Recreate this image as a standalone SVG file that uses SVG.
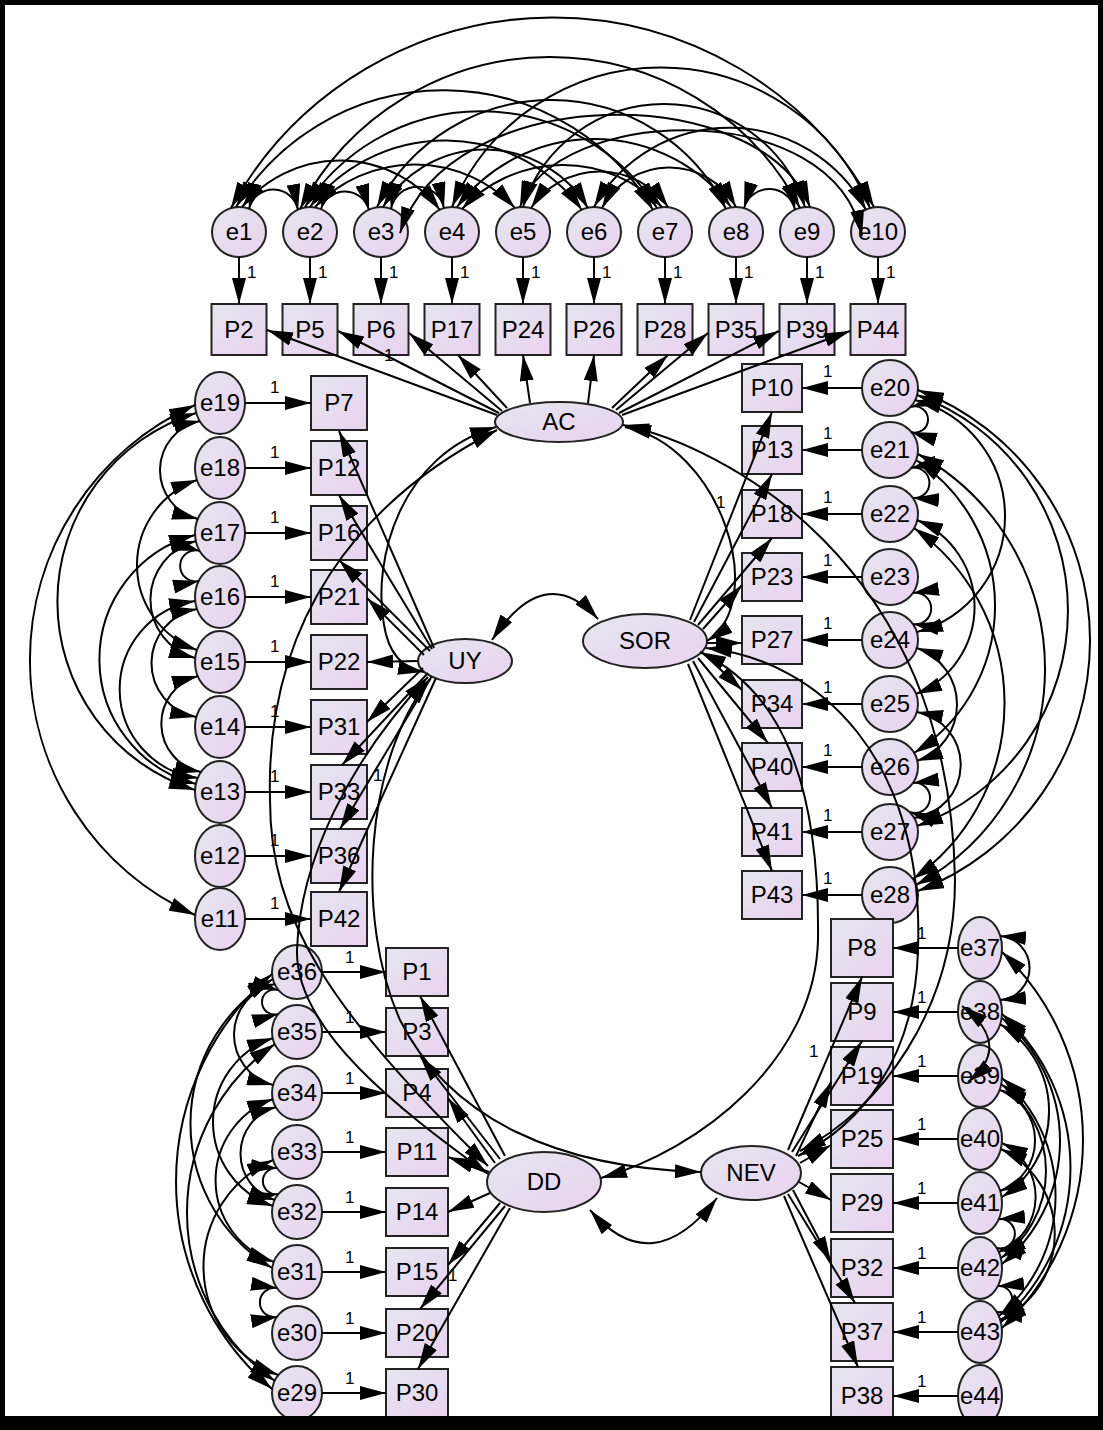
<svg xmlns="http://www.w3.org/2000/svg" width="1103" height="1430" viewBox="0 0 1103 1430">
<defs>
<linearGradient id="g" x1="0" y1="0" x2="1" y2="1"><stop offset="0" stop-color="#e4e6ef"/><stop offset="1" stop-color="#ead2ef"/></linearGradient>
<marker id="ah" markerUnits="userSpaceOnUse" markerWidth="26" markerHeight="14" refX="26" refY="7" orient="auto-start-reverse" viewBox="0 0 26 14"><path d="M0,0 L26,7 L0,14 z" fill="#000"/></marker>
<style>
.n{fill:url(#g);stroke:#222;stroke-width:2}
.t{font-family:"Liberation Sans",Arial,sans-serif;font-size:24px;text-anchor:middle;fill:#000}
.l{font-size:24px}
.o{font-family:"Liberation Sans",Arial,sans-serif;font-size:17px;fill:#000}
.c{fill:none;stroke:#000;stroke-width:2}
.m{marker-end:url(#ah)}
.d{marker-start:url(#ah);marker-end:url(#ah)}
</style>
</defs>
<rect x="0" y="0" width="1103" height="1430" fill="#fff"/>
<g id="nodes">
<g id="e1"><ellipse class="n" cx="239" cy="232" rx="27" ry="25"/><text class="t" x="239" y="240">e1</text></g>
<g id="e2"><ellipse class="n" cx="310" cy="232" rx="27" ry="25"/><text class="t" x="310" y="240">e2</text></g>
<g id="e3"><ellipse class="n" cx="381" cy="232" rx="27" ry="25"/><text class="t" x="381" y="240">e3</text></g>
<g id="e4"><ellipse class="n" cx="452" cy="232" rx="27" ry="25"/><text class="t" x="452" y="240">e4</text></g>
<g id="e5"><ellipse class="n" cx="523" cy="232" rx="27" ry="25"/><text class="t" x="523" y="240">e5</text></g>
<g id="e6"><ellipse class="n" cx="594" cy="232" rx="27" ry="25"/><text class="t" x="594" y="240">e6</text></g>
<g id="e7"><ellipse class="n" cx="665" cy="232" rx="27" ry="25"/><text class="t" x="665" y="240">e7</text></g>
<g id="e8"><ellipse class="n" cx="736" cy="232" rx="27" ry="25"/><text class="t" x="736" y="240">e8</text></g>
<g id="e9"><ellipse class="n" cx="807" cy="232" rx="27" ry="25"/><text class="t" x="807" y="240">e9</text></g>
<g id="e10"><ellipse class="n" cx="878" cy="232" rx="27" ry="25"/><text class="t" x="878" y="240">e10</text></g>
<g id="P2"><rect class="n" x="211.5" y="304" width="55" height="51"/><text class="t" x="239" y="338">P2</text></g>
<g id="P5"><rect class="n" x="282.5" y="304" width="55" height="51"/><text class="t" x="310" y="338">P5</text></g>
<g id="P6"><rect class="n" x="353.5" y="304" width="55" height="51"/><text class="t" x="381" y="338">P6</text></g>
<g id="P17"><rect class="n" x="424.5" y="304" width="55" height="51"/><text class="t" x="452" y="338">P17</text></g>
<g id="P24"><rect class="n" x="495.5" y="304" width="55" height="51"/><text class="t" x="523" y="338">P24</text></g>
<g id="P26"><rect class="n" x="566.5" y="304" width="55" height="51"/><text class="t" x="594" y="338">P26</text></g>
<g id="P28"><rect class="n" x="637.5" y="304" width="55" height="51"/><text class="t" x="665" y="338">P28</text></g>
<g id="P35"><rect class="n" x="708.5" y="304" width="55" height="51"/><text class="t" x="736" y="338">P35</text></g>
<g id="P39"><rect class="n" x="779.5" y="304" width="55" height="51"/><text class="t" x="807" y="338">P39</text></g>
<g id="P44"><rect class="n" x="850.5" y="304" width="55" height="51"/><text class="t" x="878" y="338">P44</text></g>

<g id="e19"><ellipse class="n" cx="220" cy="403" rx="25" ry="31"/><text class="t" x="220" y="411">e19</text></g>
<g id="e18"><ellipse class="n" cx="220" cy="468" rx="25" ry="31"/><text class="t" x="220" y="476">e18</text></g>
<g id="e17"><ellipse class="n" cx="220" cy="533" rx="25" ry="31"/><text class="t" x="220" y="541">e17</text></g>
<g id="e16"><ellipse class="n" cx="220" cy="597" rx="25" ry="31"/><text class="t" x="220" y="605">e16</text></g>
<g id="e15"><ellipse class="n" cx="220" cy="662" rx="25" ry="31"/><text class="t" x="220" y="670">e15</text></g>
<g id="e14"><ellipse class="n" cx="220" cy="727" rx="25" ry="31"/><text class="t" x="220" y="735">e14</text></g>
<g id="e13"><ellipse class="n" cx="220" cy="792" rx="25" ry="31"/><text class="t" x="220" y="800">e13</text></g>
<g id="e12"><ellipse class="n" cx="220" cy="856" rx="25" ry="31"/><text class="t" x="220" y="864">e12</text></g>
<g id="e11"><ellipse class="n" cx="220" cy="919" rx="25" ry="31"/><text class="t" x="220" y="927">e11</text></g>
<g id="P7"><rect class="n" x="311" y="376" width="56" height="54"/><text class="t" x="339" y="411">P7</text></g>
<g id="P12"><rect class="n" x="311" y="441" width="56" height="54"/><text class="t" x="339" y="476">P12</text></g>
<g id="P16"><rect class="n" x="311" y="506" width="56" height="54"/><text class="t" x="339" y="541">P16</text></g>
<g id="P21"><rect class="n" x="311" y="570" width="56" height="54"/><text class="t" x="339" y="605">P21</text></g>
<g id="P22"><rect class="n" x="311" y="635" width="56" height="54"/><text class="t" x="339" y="670">P22</text></g>
<g id="P31"><rect class="n" x="311" y="700" width="56" height="54"/><text class="t" x="339" y="735">P31</text></g>
<g id="P33"><rect class="n" x="311" y="765" width="56" height="54"/><text class="t" x="339" y="800">P33</text></g>
<g id="P36"><rect class="n" x="311" y="829" width="56" height="54"/><text class="t" x="339" y="864">P36</text></g>
<g id="P42"><rect class="n" x="311" y="892" width="56" height="54"/><text class="t" x="339" y="927">P42</text></g>

<g id="P10"><rect class="n" x="742" y="364" width="60" height="48"/><text class="t" x="772" y="396">P10</text></g>
<g id="P13"><rect class="n" x="742" y="426" width="60" height="48"/><text class="t" x="772" y="458">P13</text></g>
<g id="P18"><rect class="n" x="742" y="490" width="60" height="48"/><text class="t" x="772" y="522">P18</text></g>
<g id="P23"><rect class="n" x="742" y="553" width="60" height="48"/><text class="t" x="772" y="585">P23</text></g>
<g id="P27"><rect class="n" x="742" y="616" width="60" height="48"/><text class="t" x="772" y="648">P27</text></g>
<g id="P34"><rect class="n" x="742" y="680" width="60" height="48"/><text class="t" x="772" y="712">P34</text></g>
<g id="P40"><rect class="n" x="742" y="743" width="60" height="48"/><text class="t" x="772" y="775">P40</text></g>
<g id="P41"><rect class="n" x="742" y="808" width="60" height="48"/><text class="t" x="772" y="840">P41</text></g>
<g id="P43"><rect class="n" x="742" y="871" width="60" height="48"/><text class="t" x="772" y="903">P43</text></g>
<g id="e20"><circle class="n" cx="890" cy="388" r="28"/><text class="t" x="890" y="396">e20</text></g>
<g id="e21"><circle class="n" cx="890" cy="450" r="28"/><text class="t" x="890" y="458">e21</text></g>
<g id="e22"><circle class="n" cx="890" cy="514" r="28"/><text class="t" x="890" y="522">e22</text></g>
<g id="e23"><circle class="n" cx="890" cy="577" r="28"/><text class="t" x="890" y="585">e23</text></g>
<g id="e24"><circle class="n" cx="890" cy="640" r="28"/><text class="t" x="890" y="648">e24</text></g>
<g id="e25"><circle class="n" cx="890" cy="704" r="28"/><text class="t" x="890" y="712">e25</text></g>
<g id="e26"><circle class="n" cx="890" cy="767" r="28"/><text class="t" x="890" y="775">e26</text></g>
<g id="e27"><circle class="n" cx="890" cy="832" r="28"/><text class="t" x="890" y="840">e27</text></g>
<g id="e28"><circle class="n" cx="890" cy="895" r="28"/><text class="t" x="890" y="903">e28</text></g>

<g id="e36"><ellipse class="n" cx="297" cy="972" rx="25" ry="27"/><text class="t" x="297" y="980">e36</text></g>
<g id="e35"><ellipse class="n" cx="297" cy="1032" rx="25" ry="27"/><text class="t" x="297" y="1040">e35</text></g>
<g id="e34"><ellipse class="n" cx="297" cy="1093" rx="25" ry="27"/><text class="t" x="297" y="1101">e34</text></g>
<g id="e33"><ellipse class="n" cx="297" cy="1152" rx="25" ry="27"/><text class="t" x="297" y="1160">e33</text></g>
<g id="e32"><ellipse class="n" cx="297" cy="1212" rx="25" ry="27"/><text class="t" x="297" y="1220">e32</text></g>
<g id="e31"><ellipse class="n" cx="297" cy="1272" rx="25" ry="27"/><text class="t" x="297" y="1280">e31</text></g>
<g id="e30"><ellipse class="n" cx="297" cy="1333" rx="25" ry="27"/><text class="t" x="297" y="1341">e30</text></g>
<g id="e29"><ellipse class="n" cx="297" cy="1393" rx="25" ry="27"/><text class="t" x="297" y="1401">e29</text></g>
<g id="P1"><rect class="n" x="386" y="948" width="62" height="48"/><text class="t" x="417" y="980">P1</text></g>
<g id="P3"><rect class="n" x="386" y="1008" width="62" height="48"/><text class="t" x="417" y="1040">P3</text></g>
<g id="P4"><rect class="n" x="386" y="1069" width="62" height="48"/><text class="t" x="417" y="1101">P4</text></g>
<g id="P11"><rect class="n" x="386" y="1128" width="62" height="48"/><text class="t" x="417" y="1160">P11</text></g>
<g id="P14"><rect class="n" x="386" y="1188" width="62" height="48"/><text class="t" x="417" y="1220">P14</text></g>
<g id="P15"><rect class="n" x="386" y="1248" width="62" height="48"/><text class="t" x="417" y="1280">P15</text></g>
<g id="P20"><rect class="n" x="386" y="1309" width="62" height="48"/><text class="t" x="417" y="1341">P20</text></g>
<g id="P30"><rect class="n" x="386" y="1369" width="62" height="48"/><text class="t" x="417" y="1401">P30</text></g>

<g id="P8"><rect class="n" x="831" y="919" width="62" height="58"/><text class="t" x="862" y="956">P8</text></g>
<g id="P9"><rect class="n" x="831" y="983" width="62" height="58"/><text class="t" x="862" y="1020">P9</text></g>
<g id="P19"><rect class="n" x="831" y="1047" width="62" height="58"/><text class="t" x="862" y="1084">P19</text></g>
<g id="P25"><rect class="n" x="831" y="1110" width="62" height="58"/><text class="t" x="862" y="1147">P25</text></g>
<g id="P29"><rect class="n" x="831" y="1174" width="62" height="58"/><text class="t" x="862" y="1211">P29</text></g>
<g id="P32"><rect class="n" x="831" y="1239" width="62" height="58"/><text class="t" x="862" y="1276">P32</text></g>
<g id="P37"><rect class="n" x="831" y="1303" width="62" height="58"/><text class="t" x="862" y="1340">P37</text></g>
<g id="P38"><rect class="n" x="831" y="1367" width="62" height="58"/><text class="t" x="862" y="1404">P38</text></g>
<g id="e37"><ellipse class="n" cx="980" cy="948" rx="22" ry="31"/><text class="t" x="980" y="956">e37</text></g>
<g id="e38"><ellipse class="n" cx="980" cy="1012" rx="22" ry="31"/><text class="t" x="980" y="1020">e38</text></g>
<g id="e39"><ellipse class="n" cx="980" cy="1076" rx="22" ry="31"/><text class="t" x="980" y="1084">e39</text></g>
<g id="e40"><ellipse class="n" cx="980" cy="1139" rx="22" ry="31"/><text class="t" x="980" y="1147">e40</text></g>
<g id="e41"><ellipse class="n" cx="980" cy="1203" rx="22" ry="31"/><text class="t" x="980" y="1211">e41</text></g>
<g id="e42"><ellipse class="n" cx="980" cy="1268" rx="22" ry="31"/><text class="t" x="980" y="1276">e42</text></g>
<g id="e43"><ellipse class="n" cx="980" cy="1332" rx="22" ry="31"/><text class="t" x="980" y="1340">e43</text></g>
<g id="e44"><ellipse class="n" cx="980" cy="1396" rx="22" ry="31"/><text class="t" x="980" y="1404">e44</text></g>

<g id="AC"><ellipse class="n" cx="559" cy="422" rx="64" ry="20"/><text class="t l" x="559" y="430">AC</text></g>
<g id="UY"><ellipse class="n" cx="465" cy="661" rx="47" ry="22"/><text class="t l" x="465" y="669">UY</text></g>
<g id="SOR"><ellipse class="n" cx="645" cy="641" rx="62" ry="27"/><text class="t l" x="645" y="649">SOR</text></g>
<g id="DD"><ellipse class="n" cx="544" cy="1182" rx="57" ry="30"/><text class="t l" x="544" y="1190">DD</text></g>
<g id="NEV"><ellipse class="n" cx="751" cy="1173" rx="50" ry="27"/><text class="t l" x="751" y="1181">NEV</text></g>
</g>

<g id="connectors">
<path class="c m" d="M239,257 L239,304"/><path class="c m" d="M310,257 L310,304"/><path class="c m" d="M381,257 L381,304"/><path class="c m" d="M452,257 L452,304"/><path class="c m" d="M523,257 L523,304"/><path class="c m" d="M594,257 L594,304"/><path class="c m" d="M665,257 L665,304"/><path class="c m" d="M736,257 L736,304"/><path class="c m" d="M807,257 L807,304"/><path class="c m" d="M878,257 L878,304"/>
<path class="c m" d="M245,403 L311,403"/><path class="c m" d="M245,468 L311,468"/><path class="c m" d="M245,533 L311,533"/><path class="c m" d="M245,597 L311,597"/><path class="c m" d="M245,662 L311,662"/><path class="c m" d="M245,727 L311,727"/><path class="c m" d="M245,792 L311,792"/><path class="c m" d="M245,856 L311,856"/><path class="c m" d="M245,919 L311,919"/>
<path class="c m" d="M862,388 L802,388"/><path class="c m" d="M862,450 L802,450"/><path class="c m" d="M862,514 L802,514"/><path class="c m" d="M862,577 L802,577"/><path class="c m" d="M862,640 L802,640"/><path class="c m" d="M862,704 L802,704"/><path class="c m" d="M862,767 L802,767"/><path class="c m" d="M862,832 L802,832"/><path class="c m" d="M862,895 L802,895"/>
<path class="c m" d="M322,972 L386,972"/><path class="c m" d="M322,1032 L386,1032"/><path class="c m" d="M322,1093 L386,1093"/><path class="c m" d="M322,1152 L386,1152"/><path class="c m" d="M322,1212 L386,1212"/><path class="c m" d="M322,1272 L386,1272"/><path class="c m" d="M322,1333 L386,1333"/><path class="c m" d="M322,1393 L386,1393"/>
<path class="c m" d="M958,948 L893,948"/><path class="c m" d="M958,1012 L893,1012"/><path class="c m" d="M958,1076 L893,1076"/><path class="c m" d="M958,1139 L893,1139"/><path class="c m" d="M958,1203 L893,1203"/><path class="c m" d="M958,1268 L893,1268"/><path class="c m" d="M958,1332 L893,1332"/><path class="c m" d="M958,1396 L893,1396"/>
<path class="c m" d="M497,415 L267,330"/><path class="c m" d="M499,413 L338,331"/><path class="c m" d="M502,411 L409,333"/><path class="c m" d="M507,408 L458,355"/><path class="c m" d="M530,403 L523,355"/><path class="c m" d="M588,403 L594,355"/><path class="c m" d="M612,408 L668,355"/><path class="c m" d="M616,410 L708,333"/><path class="c m" d="M619,413 L779,331"/><path class="c m" d="M622,415 L850,331"/>
<path class="c m" d="M434,648 L339,431"/><path class="c m" d="M432,649 L339,495"/><path class="c m" d="M430,651 L339,560"/><path class="c m" d="M424,655 L367,598"/><path class="c m" d="M418,661 L367,662"/><path class="c m" d="M423,668 L367,722"/><path class="c m" d="M428,673 L342,765"/><path class="c m" d="M432,676 L340,829"/><path class="c m" d="M436,678 L339,892"/>
<path class="c m" d="M690,620 L772,412"/><path class="c m" d="M694,622 L772,474"/><path class="c m" d="M698,625 L772,538"/><path class="c m" d="M703,629 L742,585"/><path class="c m" d="M707,643 L742,643"/><path class="c m" d="M703,653 L742,690"/><path class="c m" d="M698,658 L768,743"/><path class="c m" d="M693,661 L772,808"/><path class="c m" d="M688,664 L772,871"/>
<path class="c m" d="M505,1156 L420,996"/><path class="c m" d="M500,1159 L420,1056"/><path class="c m" d="M495,1163 L448,1098"/><path class="c m" d="M489,1172 L448,1157"/><path class="c m" d="M490,1193 L448,1212"/><path class="c m" d="M500,1203 L448,1265"/><path class="c m" d="M505,1206 L420,1309"/><path class="c m" d="M510,1208 L418,1369"/>
<path class="c m" d="M788,1150 L862,977"/><path class="c m" d="M792,1152 L862,1041"/><path class="c m" d="M796,1156 L831,1082"/><path class="c m" d="M800,1163 L831,1145"/><path class="c m" d="M799,1182 L831,1200"/><path class="c m" d="M793,1190 L831,1262"/><path class="c m" d="M788,1194 L855,1303"/><path class="c m" d="M784,1196 L858,1367"/>
<path class="c d" d="M492,640 Q545,560 598,619"/>
<path class="c d" d="M590,1210 Q652,1282 717,1198"/>
<path class="c d" d="M496,427 C400,455 372,560 384,625 C388,650 400,668 424,672"/>
<path class="c d" d="M497,430 C360,500 265,620 270,800 C270,920 330,1010 488,1166"/>
<path class="c d" d="M428,677 C350,760 300,860 297,950 C295,1030 400,1110 488,1174"/>
<path class="c d" d="M430,679 C365,760 355,920 400,1020 C450,1120 560,1168 701,1172"/>
<path class="c d" d="M700,652 C780,690 820,780 818,940 C815,1060 700,1150 601,1178"/>
<path class="c d" d="M706,648 C820,660 925,760 918,950 C915,1060 860,1125 798,1156"/>
<path class="c d" d="M623,425 C720,445 950,560 955,880 C955,1010 880,1110 800,1151"/>
<path class="c d" d="M625,427 C720,445 770,600 707,641"/>
<path class="c d" d="M231,208 A367,367 0 0 1 874,207"/>
<path class="c d" d="M300,209 A282,282 0 0 1 800,208"/>
<path class="c d" d="M452,207 A226,226 0 0 1 870,208"/>
<path class="c d" d="M236,207 A243,243 0 0 1 653,210"/>
<path class="c d" d="M377,207 A195,195 0 0 1 726,209"/>
<path class="c d" d="M305,207 A209,209 0 0 1 657,208"/>
<path class="c d" d="M523,207 A148,148 0 0 1 805,207"/>
<path class="c d" d="M594,207 A155,155 0 0 1 866,210"/>
<path class="c d" d="M310,207 A170,170 0 0 1 582,210"/>
<path class="c d" d="M457,207 A172,172 0 0 1 731,207"/>
<path class="c d" d="M242,207 A126,126 0 0 1 440,210"/>
<path class="c d" d="M383,207 A119.6,119.6 0 0 1 588,208"/>
<path class="c d" d="M462,209 A137.8,137.8 0 0 1 662,207"/>
<path class="c d" d="M315,207 A137.8,137.8 0 0 1 515,208"/>
<path class="c d" d="M531,208 A83.2,83.2 0 0 1 668,207"/>
<path class="c d" d="M602,208 A76.1,76.1 0 0 1 736,207"/>
<path class="c d" d="M249,209 A25,25 0 0 1 298,210"/>
<path class="c d" d="M321,209 A25,25 0 0 1 369,210"/>
<path class="c d" d="M391,209 A27,27 0 0 1 444,208"/>
<path class="c d" d="M744,208 A26.3,26.3 0 0 1 795,210"/>
<path class="c d" d="M400,233 C450,80 760,80 810,207"/>
<path class="c d" d="M520,207 C555,105 835,95 862,236"/>
<path class="c d" d="M195,405 A279.5,279.5 0 0 0 195,915"/>
<path class="c d" d="M196,413 A197.7,197.7 0 0 0 195,790"/>
<path class="c d" d="M200,421 A50.3,50.3 0 0 0 198,519"/>
<path class="c d" d="M197,480 A90.2,90.2 0 0 0 197,650"/>
<path class="c d" d="M196,541 A60.5,60.5 0 0 0 195,658"/>
<path class="c d" d="M195,535 A128.7,128.7 0 0 0 196,784"/>
<path class="c d" d="M200,551 A15.5,15.5 0 1 0 199,581"/>
<path class="c d" d="M197,609 A54.9,54.9 0 0 0 196,717"/>
<path class="c d" d="M195,601 A89.4,89.4 0 0 0 198,778"/>
<path class="c d" d="M198,676 A49.3,49.3 0 0 0 201,772"/>
<path class="c d" d="M918,390 A268.4,268.4 0 0 1 918,891"/>
<path class="c d" d="M917,395 A229.3,229.3 0 0 1 917,826"/>
<path class="c d" d="M918,454 A245.4,245.4 0 0 1 916,885"/>
<path class="c d" d="M915,400 A120.1,120.1 0 0 1 917,632"/>
<path class="c d" d="M911,407 A13.1,13.1 0 1 1 911,432"/>
<path class="c d" d="M911,468 A15.2,15.2 0 1 1 913,498"/>
<path class="c d" d="M917,520 A94.2,94.2 0 0 1 916,694"/>
<path class="c d" d="M913,593 A15.7,15.7 0 1 1 913,624"/>
<path class="c d" d="M917,648 A59.9,59.9 0 0 1 917,761"/>
<path class="c d" d="M917,712 A53.7,53.7 0 0 1 914,818"/>
<path class="c d" d="M913,783 A15,15 0 1 1 910,812"/>
<path class="c d" d="M914,528 A214.7,214.7 0 0 1 913,879"/>
<path class="c d" d="M916,460 A174.1,174.1 0 0 1 914,753"/>
<path class="c d" d="M272,974 A272.3,272.3 0 0 0 272,1389"/>
<path class="c d" d="M273,979 A168.3,168.3 0 0 0 272,1268"/>
<path class="c d" d="M275,984 A51.9,51.9 0 0 0 273,1085"/>
<path class="c d" d="M278,990 A12.5,12.5 0 1 0 278,1014"/>
<path class="c d" d="M273,1038 A88.8,88.8 0 0 0 273,1206"/>
<path class="c d" d="M275,1044 A205.3,205.3 0 0 0 275,1381"/>
<path class="c d" d="M273,1099 A86.3,86.3 0 0 0 274,1262"/>
<path class="c d" d="M276,1107 A48.4,48.4 0 0 0 275,1200"/>
<path class="c d" d="M273,1160 A116.3,116.3 0 0 0 278,1375"/>
<path class="c d" d="M277,1168 A13.1,13.1 0 1 0 278,1194"/>
<path class="c d" d="M277,1288 A14.7,14.7 0 1 0 277,1317"/>
<path class="c d" d="M1002,952 A258.7,258.7 0 0 1 1002,1328"/>
<path class="c d" d="M1000,936 A32.1,32.1 0 0 1 1000,1000"/>
<path class="c d" d="M1002,1014 A206.4,206.4 0 0 1 1001,1322"/>
<path class="c d" d="M1002,1018 A159.4,159.4 0 0 1 1002,1264"/>
<path class="c d" d="M1000,1024 A101.9,101.9 0 0 1 1002,1197"/>
<path class="c d" d="M1002,1078 A156.2,156.2 0 0 1 999,1316"/>
<path class="c d" d="M1001,1084 A106.6,106.6 0 0 1 1001,1258"/>
<path class="c d" d="M1000,1090 A53.9,53.9 0 0 1 1000,1191"/>
<path class="c d" d="M1002,1143 A59.9,59.9 0 0 1 999,1252"/>
<path class="c d" d="M1001,1149 A94.5,94.5 0 0 1 1000,1320"/>
<path class="c d" d="M999,1219 A14.7,14.7 0 1 1 997,1248"/>
<path class="c d" d="M998,1286 A13.1,13.1 0 1 1 997,1312"/>
<path class="c d" d="M962,1006 C1000,1035 995,1060 968,1082"/>
</g>

<g id="labels">
<text class="o" x="247" y="278">1</text><text class="o" x="318" y="278">1</text><text class="o" x="389" y="278">1</text><text class="o" x="460" y="278">1</text><text class="o" x="531" y="278">1</text><text class="o" x="602" y="278">1</text><text class="o" x="673" y="278">1</text><text class="o" x="744" y="278">1</text><text class="o" x="815" y="278">1</text><text class="o" x="886" y="278">1</text>
<text class="o" x="270" y="393">1</text><text class="o" x="270" y="458">1</text><text class="o" x="270" y="523">1</text><text class="o" x="270" y="587">1</text><text class="o" x="270" y="652">1</text><text class="o" x="270" y="717">1</text><text class="o" x="270" y="782">1</text><text class="o" x="270" y="846">1</text><text class="o" x="270" y="909">1</text>
<text class="o" x="823" y="377">1</text><text class="o" x="823" y="439">1</text><text class="o" x="823" y="503">1</text><text class="o" x="823" y="566">1</text><text class="o" x="823" y="629">1</text><text class="o" x="823" y="693">1</text><text class="o" x="823" y="756">1</text><text class="o" x="823" y="821">1</text><text class="o" x="823" y="884">1</text>
<text class="o" x="345" y="963">1</text><text class="o" x="345" y="1023">1</text><text class="o" x="345" y="1084">1</text><text class="o" x="345" y="1143">1</text><text class="o" x="345" y="1203">1</text><text class="o" x="345" y="1263">1</text><text class="o" x="345" y="1324">1</text><text class="o" x="345" y="1384">1</text>
<text class="o" x="917" y="939">1</text><text class="o" x="917" y="1003">1</text><text class="o" x="917" y="1067">1</text><text class="o" x="917" y="1130">1</text><text class="o" x="917" y="1194">1</text><text class="o" x="917" y="1259">1</text><text class="o" x="917" y="1323">1</text><text class="o" x="917" y="1387">1</text>
<text class="o" x="384" y="361">1</text><text class="o" x="716" y="508">1</text><text class="o" x="373" y="781">1</text><text class="o" x="448" y="1281">1</text><text class="o" x="809" y="1057">1</text>
</g>

<g id="frame">
<rect x="2.5" y="2.5" width="1098" height="1416" fill="none" stroke="#000" stroke-width="5"/>
<rect x="0" y="1417" width="1103" height="13" fill="#000"/>
</g>
</svg>
